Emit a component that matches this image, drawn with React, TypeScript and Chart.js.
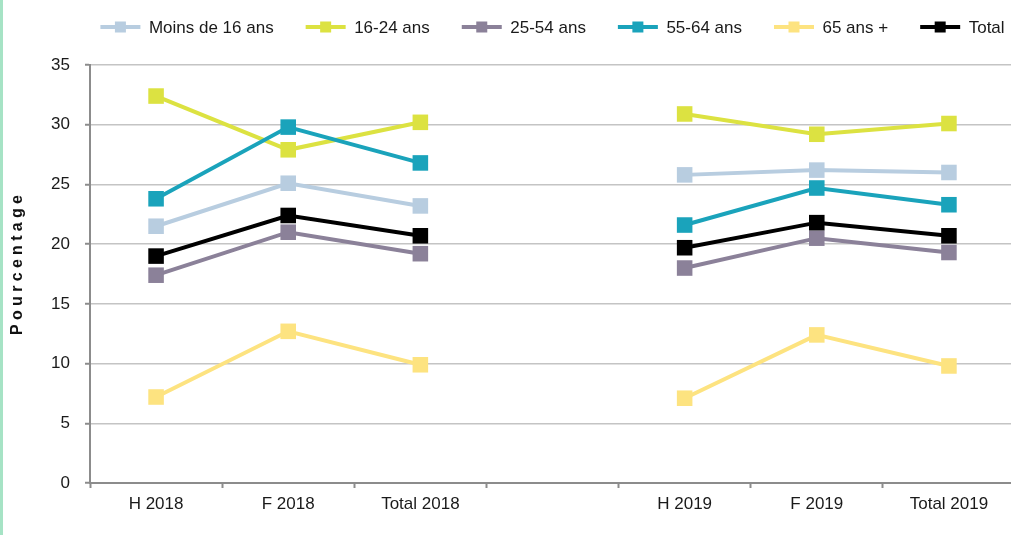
import React, { useEffect, useRef } from "react";
import { Chart, registerables } from "chart.js";

Chart.register(...registerables);

const categories = ["H 2018", "F 2018", "Total 2018", "", "H 2019", "F 2019", "Total 2019"];

const seriesNames = ["Moins de 16 ans", "16-24 ans", "25-54 ans", "55-64 ans", "65 ans +", "Total"];

const moins16 = [21.5, 25.1, 23.2, 25.8, 26.2, 26.0];
const age1624 = [32.4, 27.9, 30.2, 30.9, 29.2, 30.1];
const age2554 = [17.4, 21.0, 19.2, 18.0, 20.5, 19.3];
const age5564 = [23.8, 29.8, 26.8, 21.6, 24.7, 23.3];
const age65plus = [7.2, 12.7, 9.9, 7.1, 12.4, 9.8];
const totalVals = [19.0, 22.4, 20.7, 19.7, 21.8, 20.7];

const seriesValues = [moins16, age1624, age2554, age5564, age65plus, totalVals];
const seriesColors = ["#b8cde0", "#dce241", "#8b8199", "#1aa3bb", "#fde380", "#000000"];

const yTicks = [0, 5, 10, 15, 20, 25, 30, 35];
const yTitle = "Pourcentage";

const FONT = '"Liberation Sans", Arial, sans-serif';

function withGap(v: number[]): (number | null)[] {
  return [v[0], v[1], v[2], null, v[3], v[4], v[5]];
}

const customPlugin = {
  id: "customLegendTitle",
  afterDraw(chart: any) {
    const ctx = chart.ctx as CanvasRenderingContext2D;
    const area = chart.chartArea;
    // Legend
    ctx.save();
    ctx.font = `17px ${FONT}`;
    const markerW = 40;
    const gapText = 8.5;
    const pad = 32;
    const widths = seriesNames.map((n) => ctx.measureText(n).width);
    const total =
      widths.reduce((a, b) => a + markerW + gapText + b, 0) + pad * (seriesNames.length - 1);
    let x = (area.left + area.right) / 2 - total / 2;
    const y = 27;
    seriesNames.forEach((name, i) => {
      const c = seriesColors[i];
      ctx.strokeStyle = c;
      ctx.lineWidth = 4;
      ctx.beginPath();
      ctx.moveTo(x, y);
      ctx.lineTo(x + markerW, y);
      ctx.stroke();
      ctx.fillStyle = c;
      ctx.fillRect(x + markerW / 2 - 5.5, y - 5.5, 11, 11);
      ctx.fillStyle = "#1a1a1a";
      ctx.textBaseline = "middle";
      ctx.textAlign = "left";
      ctx.fillText(name, x + markerW + gapText, y + 1);
      x += markerW + gapText + widths[i] + pad;
    });
    ctx.restore();

    // Y title
    ctx.save();
    ctx.font = `bold 16px ${FONT}`;
    (ctx as any).letterSpacing = "4.3px";
    const tw = ctx.measureText(yTitle).width - 4.3;
    ctx.translate(18, 265);
    ctx.rotate(-Math.PI / 2);
    ctx.fillStyle = "#111111";
    ctx.textBaseline = "middle";
    ctx.textAlign = "left";
    ctx.fillText(yTitle, -tw / 2, 0);
    ctx.restore();
  },
};

export default function App() {
  const ref = useRef<HTMLCanvasElement | null>(null);

  useEffect(() => {
    if (!ref.current) return;
    const n = seriesNames.length;
    const chart = new Chart(ref.current, {
      type: "line",
      data: {
        labels: categories,
        datasets: seriesNames.map((name, i) => ({
          label: name,
          data: withGap(seriesValues[i]),
          borderColor: seriesColors[i],
          backgroundColor: seriesColors[i],
          pointBackgroundColor: seriesColors[i],
          pointBorderColor: seriesColors[i],
          pointBorderWidth: 0,
          pointStyle: "rect",
          pointRadius: 11,
          pointHoverRadius: 11,
          borderWidth: 4,
          tension: 0,
          spanGaps: false,
          order: n - 1 - i,
        })),
      },
      options: {
        animation: false,
        responsive: false,
        maintainAspectRatio: false,
        devicePixelRatio: 1,
        layout: { padding: { top: 65, right: 5, left: 0, bottom: 0 } },
        plugins: {
          legend: { display: false },
          tooltip: { enabled: false },
          title: { display: false },
        },
        scales: {
          x: {
            type: "category",
            offset: true,
            afterFit: (s: any) => {
              s.height = 52;
            },
            grid: {
              display: true,
              drawOnChartArea: false,
              offset: true,
              tickLength: 5,
              tickColor: "#8c8c8c",
              tickWidth: 2,
            },
            border: { display: true, color: "#8c8c8c", width: 2 },
            ticks: {
              color: "#1a1a1a",
              font: { family: FONT, size: 17 },
              padding: 6,
              maxRotation: 0,
              autoSkip: false,
            },
          },
          y: {
            min: 0,
            max: 35,
            afterFit: (s: any) => {
              s.width = 90;
            },
            afterBuildTicks: (s: any) => {
              s.ticks = yTicks.map((v) => ({ value: v }));
            },
            grid: {
              color: "#c4c4c4",
              lineWidth: 1.5,
              tickLength: 5,
              tickColor: "#8c8c8c",
              tickWidth: 2,
            },
            border: { display: true, color: "#8c8c8c", width: 2 },
            ticks: {
              color: "#1a1a1a",
              font: { family: FONT, size: 17 },
              padding: 15,
            },
          },
        },
      },
      plugins: [customPlugin],
    });
    return () => chart.destroy();
  }, []);

  return (
    <div
      style={{
        position: "absolute",
        left: 0,
        top: 0,
        width: 1011,
        height: 535,
        overflow: "hidden",
        background: "#ffffff",
      }}
    >
      <canvas
        ref={ref}
        width={1026}
        height={535}
        style={{ position: "absolute", left: 0, top: 0, width: 1026, height: 535 }}
      />
      <div
        style={{
          position: "absolute",
          left: 0,
          top: 0,
          width: 3,
          height: 535,
          background: "#a6e3c5",
        }}
      />
    </div>
  );
}
